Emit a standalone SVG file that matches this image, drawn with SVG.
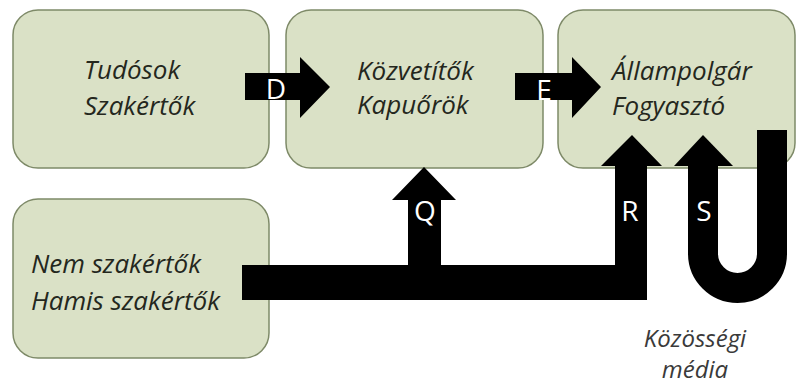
<svg xmlns="http://www.w3.org/2000/svg" width="805" height="387" viewBox="0 0 805 387">
<style>
.box{fill:#dae1c6;stroke:#7e8a68;stroke-width:1.5}
.t{font-family:"Open Sans",Lato,"Liberation Sans",sans-serif;font-style:italic;font-size:26px;fill:#24271d}
.lbl{font-family:"Open Sans",Lato,"Liberation Sans",sans-serif;font-size:28px;fill:#ffffff;text-anchor:middle}
.cap{font-family:"Open Sans",Lato,"Liberation Sans",sans-serif;font-style:italic;font-size:24px;fill:#3a3a3a;text-anchor:middle}
.arr{fill:#000000}
</style>
<g id="node-tudosok">
<rect class="box" x="13" y="10" width="256" height="158" rx="25"/>
<text class="t" x="84" y="79">Tudósok</text>
<text class="t" x="84" y="115">Szakértők</text>
</g>
<g id="node-kozvetitok">
<rect class="box" x="286" y="10" width="257" height="158" rx="25"/>
<text class="t" x="357" y="80">Közvetítők</text>
<text class="t" x="357" y="114">Kapuőrök</text>
</g>
<g id="node-allampolgar">
<rect class="box" x="558" y="10" width="237" height="158" rx="25"/>
<text class="t" x="612" y="80">Állampolgár</text>
<text class="t" x="612" y="115">Fogyasztó</text>
</g>
<g id="node-nemszakertok">
<rect class="box" x="13" y="199" width="256" height="159" rx="25"/>
<text class="t" x="31" y="273">Nem szakértők</text>
<text class="t" x="31" y="310">Hamis szakértők</text>
</g>
<g id="connectors">
<polygon class="arr" points="245,73 300,73 300,57 330,87 300,118 300,100 245,100"/>
<polygon class="arr" points="515,73 572,73 572,57 601,87 572,118 572,100 515,100"/>
<polygon class="arr" points="242,265 408,265 408,200 392,200 424,167 456,200 441,200 441,265 615,265 615,166 601,166 632,135 662,166 647,166 647,300 242,300"/>
<path d="M772 130 V253.5 A34.5 34.5 0 0 1 703 253.5 V165" fill="none" stroke="#000" stroke-width="30"/>
<polygon class="arr" points="674,166 703,135 733,166"/>
<text class="lbl" x="276" y="99">D</text>
<text class="lbl" x="544" y="100">E</text>
<text class="lbl" x="425" y="221">Q</text>
<text class="lbl" x="630" y="221">R</text>
<text class="lbl" x="704" y="221">S</text>
</g>
<text class="cap" x="695" y="347">Közösségi</text>
<text class="cap" x="695" y="378">média</text>
</svg>
